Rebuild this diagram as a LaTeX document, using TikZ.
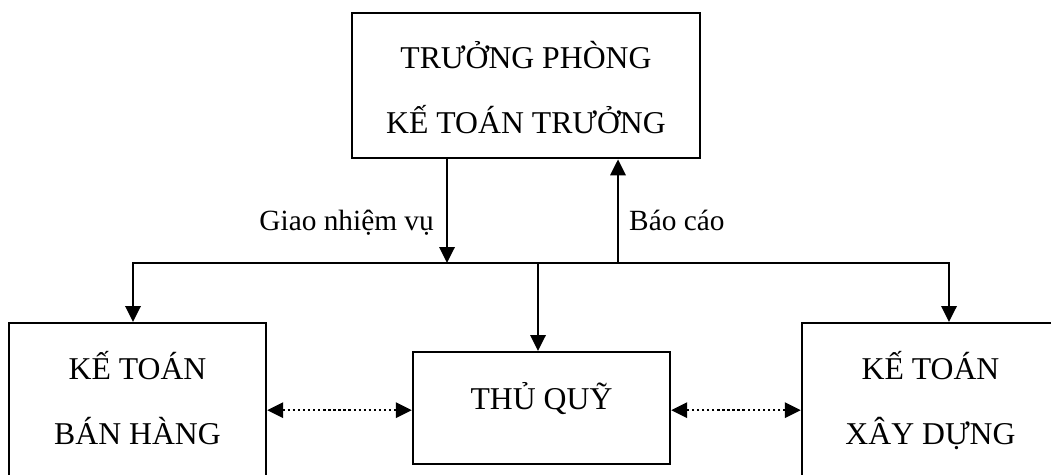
\documentclass[tikz,border=0pt]{standalone}
\usepackage{fontspec}
\setmainfont{Liberation Serif}
\usetikzlibrary{arrows.meta}

\begin{document}
\begin{tikzpicture}[> = {Triangle[length = 12pt, width = 11.5pt]}, x = 0.75pt, y = -0.75pt, line width = 1.8pt,
	unit/.style = {draw, inner sep = 0pt, anchor = north, align = center, minimum width = 192.75pt, font = \fontsize{23.8}{48.75}\selectfont},
	note/.style = {inner sep = 0pt, font = \fontsize{22}{26}\selectfont}]

	% Frame
	
	\useasboundingbox (0, 0) rectangle (1051, 475);
	\clip (0, 0) rectangle (1051, 475);
	
	% Boxes
	
	\node [unit, minimum width = 261pt, text height = 90pt, text depth = 18.75pt] (tp) at (526, 12) {TRƯỞNG PHÒNG\\KẾ TOÁN TRƯỞNG};
	\node [unit, text height = 90.75pt, text depth = 39.75pt] (ktbh) at (137.5, 322) {KẾ TOÁN\\BÁN HÀNG};
	\node [unit, text height = 42.75pt, text depth = 41.25pt] (tq) at (541.5, 351) {THỦ QUỸ};
	\node [unit, text height = 90.75pt, text depth = 39.75pt] (ktxd) at (930.5, 322) {KẾ TOÁN\\XÂY DỰNG};
	
	% Bus
	
	\coordinate (giao) at (447, 263);
	\coordinate (bao) at (618, 263);
	\coordinate (busl) at (133, 263);
	\coordinate (busc) at (538, 263);
	\coordinate (busr) at (949, 263);
	
	% Arrows
	
	\draw [->] (tp.south -| giao) -- (giao);
	\draw [->] (bao) -- (bao |- tp.south);
	\draw [->] (busc) -- (busl) -- (busl |- ktbh.north);
	\draw [->] (busc) -- (busr) -- (busr |- ktxd.north);
	\draw [->] (busc) -- (busc |- tq.north);
	\draw [<->, dotted] (ktbh.east) -- (ktbh.east -| tq.west);
	\draw [<->, dotted] (ktxd.west) -- (ktxd.west -| tq.east);
	
	% Labels
	
	\node [note, anchor = base east] (giaolbl) at (435, 230) {Giao nhiệm vụ};
	\node [note, anchor = base west] (baolbl) at (628, 230) {Báo cáo};

\end{tikzpicture}
\end{document}
